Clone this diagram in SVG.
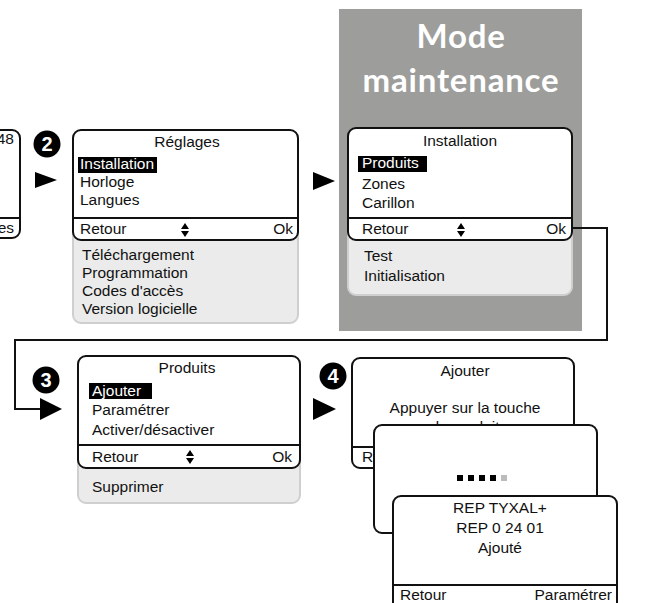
<svg xmlns="http://www.w3.org/2000/svg" width="648" height="603" viewBox="0 0 648 603">
<style>
text{font-family:"Liberation Sans",Arial,sans-serif;font-size:15.5px;fill:#111}
.c{text-anchor:middle}
.r{text-anchor:end}
.w{fill:#fff}
.scr{fill:#fff;stroke:#111;stroke-width:2}
.sub{fill:#ebebeb;stroke:#cfcfcf;stroke-width:2}
.div{stroke:#111;stroke-width:2}
.hl{fill:#000}
.num{fill:#000}
.numt{font-family:"Liberation Sans",Arial,sans-serif;font-weight:bold;font-size:20px;fill:#fff;text-anchor:middle}
.tri{fill:#000}
.conn{fill:none;stroke:#111;stroke-width:2}
.title{font-family:Lato,"Open Sans",sans-serif;font-weight:bold;font-size:33px;letter-spacing:0.8px;fill:#fff;text-anchor:middle}
</style>
<defs>
<g id="updown"><polygon points="-4,5 4,5 0,-1"/><polygon points="-4,7 4,7 0,13"/></g>
</defs>
<rect width="648" height="603" fill="#fff"/>

<g id="prev-screen">
<rect class="scr" x="-30" y="130" width="50" height="108" rx="8"/>
<line class="div" x1="-30" y1="218" x2="20" y2="218"/>
<text class="r" x="14" y="144">48</text>
<text class="r" x="14" y="233">es</text>
</g>

<g id="step2">
<circle class="num" cx="47" cy="144" r="13.5"/>
<text class="numt" x="47" y="151">2</text>
<polygon class="tri" points="35,172 57,180 35,188"/>
</g>

<g id="reglages">
<rect class="sub" x="73" y="200" width="225" height="123" rx="8"/>
<rect class="scr" x="73" y="130" width="225" height="110" rx="8"/>
<line class="div" x1="73" y1="218" x2="298" y2="218"/>
<text class="c" x="187" y="147">Réglages</text>
<rect class="hl" x="78" y="157" width="79" height="16"/>
<text class="w" x="80" y="169">Installation</text>
<text x="80" y="187">Horloge</text>
<text x="80" y="205">Langues</text>
<text x="80" y="234">Retour</text>
<use href="#updown" x="185" y="224"/>
<text class="r" x="293" y="234">Ok</text>
<text x="82" y="260">Téléchargement</text>
<text x="82" y="278">Programmation</text>
<text x="82" y="296">Codes d'accès</text>
<text x="82" y="314">Version logicielle</text>
</g>

<g id="arrow-to-maint">
<polygon class="tri" points="313,172 335,181 313,190"/>
</g>

<g id="maintenance">
<rect x="339" y="9" width="243" height="322" fill="#9d9d9b"/>
<text class="title" x="461" y="48">Mode</text>
<text class="title" x="461" y="92">maintenance</text>
<rect class="sub" x="348" y="200" width="224" height="95" rx="8"/>
<rect class="scr" x="348" y="128" width="224" height="112" rx="8"/>
<line class="div" x1="348" y1="218" x2="572" y2="218"/>
<text class="c" x="460" y="146">Installation</text>
<rect class="hl" x="358" y="156" width="69" height="16"/>
<text class="w" x="362" y="168">Produits</text>
<text x="362" y="189">Zones</text>
<text x="362" y="208">Carillon</text>
<text x="362" y="234">Retour</text>
<use href="#updown" x="461" y="224"/>
<text class="r" x="566" y="234">Ok</text>
<text x="364" y="261">Test</text>
<text x="364" y="281">Initialisation</text>
</g>

<g id="connectors">
<polyline class="conn" points="572,228 607,228 607,340 15,340 15,409 42,409"/>
</g>

<g id="step3">
<circle class="num" cx="46" cy="380" r="13.5"/>
<text class="numt" x="46" y="387">3</text>
<polygon class="tri" points="40,398 62,409 40,420"/>
</g>

<g id="produits">
<rect class="sub" x="78" y="430" width="222" height="73" rx="8"/>
<rect class="scr" x="78" y="356" width="222" height="112" rx="8"/>
<line class="div" x1="78" y1="445" x2="300" y2="445"/>
<text class="c" x="187" y="373">Produits</text>
<rect class="hl" x="89" y="383" width="63" height="16"/>
<text class="w" x="92" y="396">Ajouter</text>
<text x="92" y="415">Paramétrer</text>
<text x="92" y="435">Activer/désactiver</text>
<text x="92" y="462">Retour</text>
<use href="#updown" x="190" y="451"/>
<text class="r" x="292" y="462">Ok</text>
<text x="92" y="492">Supprimer</text>
</g>

<g id="step4">
<circle class="num" cx="333" cy="376" r="13.5"/>
<text class="numt" x="333" y="383">4</text>
<polygon class="tri" points="313,398 336,409 313,420"/>
</g>

<g id="ajouter">
<rect class="scr" x="352" y="358" width="222" height="110" rx="8"/>
<line class="div" x1="352" y1="447" x2="574" y2="447"/>
<text class="c" x="465" y="376">Ajouter</text>
<text class="c" x="465" y="413">Appuyer sur la touche</text>
<text class="c" x="465" y="432">du produit</text>
<text x="362" y="462">Retour</text>
</g>

<g id="progress">
<rect class="scr" x="374" y="425" width="223" height="108" rx="8"/>
<rect x="457" y="475" width="6" height="6" fill="#000"/>
<rect x="468" y="475" width="6" height="6" fill="#000"/>
<rect x="479" y="475" width="6" height="6" fill="#000"/>
<rect x="490" y="475" width="6" height="6" fill="#000"/>
<rect x="501" y="475" width="6" height="6" fill="#bbb"/>
</g>

<g id="ajoute">
<rect class="scr" x="393" y="496" width="224" height="130" rx="8"/>
<line class="div" x1="393" y1="585" x2="617" y2="585"/>
<text class="c" x="500" y="513">REP TYXAL+</text>
<text class="c" x="500" y="533">REP 0 24 01</text>
<text class="c" x="500" y="553">Ajouté</text>
<text x="400" y="600">Retour</text>
<text class="r" x="612" y="600">Paramétrer</text>
</g>
</svg>
